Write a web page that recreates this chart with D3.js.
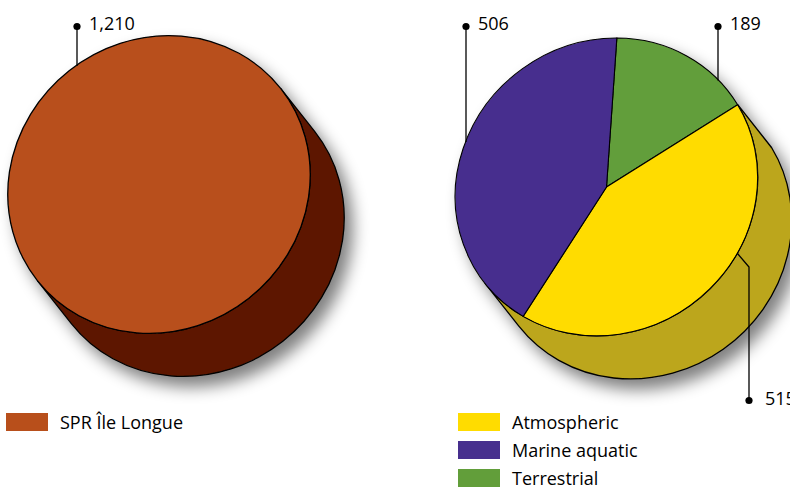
<!DOCTYPE html>
<html><head><meta charset="utf-8">
<script src="https://cdn.jsdelivr.net/npm/d3@7/dist/d3.min.js"></script>
<style>
html,body{margin:0;padding:0;background:#fff;}
svg{display:block;}
text{font-family:"Open Sans","Noto Sans",sans-serif;fill:#000;font-weight:500;}
</style></head>
<body>
<svg id="chart" width="790" height="488"></svg>
<script>
// ---- data ----
const leftCategories = ["SPR Île Longue"];
const leftValues = [1210];
const rightCategories = ["Atmospheric", "Marine aquatic", "Terrestrial"];
const rightValues = [515, 506, 189];
const rightDrawOrder = ["Terrestrial", "Atmospheric", "Marine aquatic"]; // clockwise

// ---- styles ----
const leftColor = "#B84F1B", leftSide = "#5D1900";
const rightColors = {"Atmospheric":"#FFDC00","Marine aquatic":"#472F8E","Terrestrial":"#629E3A"};
const rightSide = "#BCA61C";

// ---- layout ----
const A = 155, B = 145, PHI = -38.3;           // ellipse of pie top face
const OFF = [34, 43];                           // extrusion offset
const rad = PHI * Math.PI / 180;
const U = [Math.cos(rad), Math.sin(rad)], V = [-Math.sin(rad), Math.cos(rad)];
const H = (OFF[0]*V[0] + OFF[1]*V[1]) / B;      // depth in unit frame
const leftC = [159, 184.5], rightC = [606.5, 187];
const fmt = d3.format(",");
const FS = 18;

const svg = d3.select("#chart");
const defs = svg.append("defs");
const f = defs.append("filter").attr("id","ds").attr("x","-20%").attr("y","-20%").attr("width","150%").attr("height","150%");
f.append("feGaussianBlur").attr("in","SourceAlpha").attr("stdDeviation",8).attr("result","b");
f.append("feOffset").attr("in","b").attr("dx",8).attr("dy",10).attr("result","o");
f.append("feComponentTransfer").attr("in","o").attr("result","o2")
  .append("feFuncA").attr("type","linear").attr("slope",0.5);
const m = f.append("feMerge"); m.append("feMergeNode").attr("in","o2"); m.append("feMergeNode").attr("in","SourceGraphic");

function tf(c){ return `translate(${c[0]},${c[1]}) rotate(${PHI}) scale(${A},${B})`; }
function toScreen(c, x, y){ return [c[0] + A*x*U[0] + B*y*V[0], c[1] + A*x*U[1] + B*y*V[1]]; }
function angPt(c, a){ return toScreen(c, Math.sin(a), -Math.cos(a)); }
function topAtX(c, X){
  let best = null, bd = 1e9;
  for (let a = 0; a < 2*Math.PI; a += 0.0005){
    const p = angPt(c, a);
    if (p[1] < c[1] && Math.abs(p[0]-X) < bd){ bd = Math.abs(p[0]-X); best = p; }
  }
  return best;
}
function sidePath(s){
  const e = 1.5*Math.PI;
  const large = (e - s) > Math.PI ? 1 : 0;
  const x0 = Math.sin(s), y0 = -Math.cos(s);
  return `M${x0},${y0} A1,1 0 ${large} 1 -1,0 L-1,${H} A1,1 0 ${large} 0 ${x0},${y0+H} Z`;
}
const arc = d3.arc().innerRadius(0).outerRadius(1);

// ---- left pie ----
{
  const g = svg.append("g").attr("filter","url(#ds)").append("g").attr("transform", tf(leftC));
  g.append("path").attr("d", sidePath(Math.PI/2)).attr("fill", leftSide)
    .attr("stroke","#000").attr("stroke-width",1.3).attr("vector-effect","non-scaling-stroke");
  const pie = d3.pie().sort(null)(leftValues);
  g.selectAll("path.s").data(pie).join("path").attr("class","s").attr("d", arc)
    .attr("fill", leftColor).attr("stroke","#000").attr("stroke-width",1.3).attr("vector-effect","non-scaling-stroke");
}

// ---- right pie ----
const valueOf = k => rightValues[rightCategories.indexOf(k)];
const startA = 40.4 * Math.PI / 180;
const rpie = d3.pie().sort(null).value(d => valueOf(d)).startAngle(startA).endAngle(startA + 2*Math.PI)(rightDrawOrder);
const atm = rpie.find(d => d.data === "Atmospheric");
{
  const g = svg.append("g").attr("filter","url(#ds)").append("g").attr("transform", tf(rightC));
  g.append("path").attr("d", sidePath(atm.startAngle)).attr("fill", rightSide)
    .attr("stroke","#000").attr("stroke-width",1.3).attr("vector-effect","non-scaling-stroke");
  g.selectAll("path.s").data(rpie).join("path").attr("class","s").attr("d", arc)
    .attr("fill", d => rightColors[d.data]).attr("stroke","#000").attr("stroke-width",1.1)
    .attr("vector-effect","non-scaling-stroke");
}

// ---- leaders & value labels ----
const lead = svg.append("g");
function topLabel(c, X, dotY, text){
  const p = topAtX(c, X);
  lead.append("line").attr("x1",X).attr("y1",dotY).attr("x2",X).attr("y2",p[1]+1)
    .attr("stroke","#000").attr("stroke-width",1.3);
  lead.append("circle").attr("cx",X).attr("cy",dotY).attr("r",3.6).attr("fill","#000");
  lead.append("text").attr("x",X+12).attr("y",dotY+3.5).attr("font-size",FS).text(text);
}
topLabel(leftC, 77, 26.5, fmt(leftValues[0]));
topLabel(rightC, 466, 26.5, fmt(valueOf("Marine aquatic")));
topLabel(rightC, 718, 26.5, fmt(valueOf("Terrestrial")));
{
  const p = angPt(rightC, 156.6*Math.PI/180);
  const ex = 749, ey = 267, dy = 400.5;
  lead.append("polyline").attr("points", `${p[0]},${p[1]} ${ex},${ey} ${ex},${dy}`)
    .attr("fill","none").attr("stroke","#000").attr("stroke-width",1.3);
  lead.append("circle").attr("cx",ex).attr("cy",dy).attr("r",3.6).attr("fill","#000");
  lead.append("text").attr("x",ex+16).attr("y",dy+4).attr("font-size",FS).text(fmt(valueOf("Atmospheric")));
}

// ---- legends ----
const lg = svg.append("g");
leftCategories.forEach((c,i) => {
  lg.append("rect").attr("x",6).attr("y",413+i*28).attr("width",42).attr("height",18).attr("fill",leftColor);
  lg.append("text").attr("x",60).attr("y",429+i*28).attr("font-size",FS).text(c);
});
rightCategories.forEach((c,i) => {
  lg.append("rect").attr("x",458).attr("y",413+i*28).attr("width",42).attr("height",18).attr("fill",rightColors[c]);
  lg.append("text").attr("x",512).attr("y",429+i*28).attr("font-size",FS).text(c);
});
</script>
</body></html>
